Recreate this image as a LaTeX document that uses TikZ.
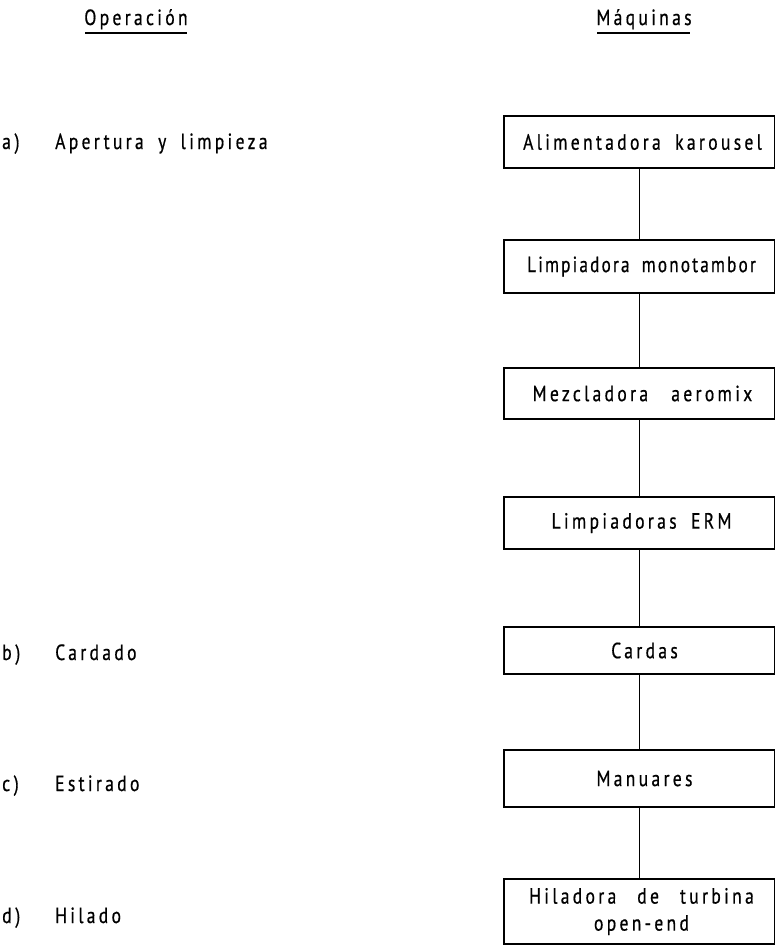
\documentclass[tikz,border=0pt]{standalone}
\usepackage{fontspec}
\setmainfont{PT Sans}[LetterSpace=15, FakeStretch=0.8, FakeBold=0.6, WordSpace=1.8]
\newfontfamily\tightfont{PT Sans}[LetterSpace=10, FakeStretch=0.78, FakeBold=0.6, WordSpace=1.8]
\begin{document}
\begin{tikzpicture}[x=1pt,y=-1pt,
  every node/.style={font=\fontsize{22}{26}\selectfont},
  box/.style={draw, line width=1.5pt, minimum width=271, inner sep=0pt, align=center},
  conn/.style={line width=0.9pt},
  lbl/.style={anchor=base west, inner sep=0pt},
  head/.style={inner sep=0pt, anchor=base},
  uline/.style={line width=1.4pt}]
\useasboundingbox (0,0) rectangle (775,946);
% headings
\node[head] (h1) at (136,25) {Operación};
\node[head] (h2) at (644,25) {Máquinas};
\draw[uline] (85,33) -- (187,33);
\draw[uline] (597,33) -- (690,33);
% boxes
\node[box, minimum height=52] (m1) at (639.5,142) {\hspace{6pt}Alimentadora karousel};
\node[box, minimum height=53, font=\tightfont\fontsize{22}{26}\selectfont] (m2) at (639.5,266.5) {\hspace{4pt}Limpiadora monotambor};
\node[box, minimum height=51] (m3) at (639.5,393.5) {\hspace{6pt}Mezcladora\hspace{0.4em} aeromix};
\node[box, minimum height=52] (m4) at (639.5,523) {\hspace{4pt}Limpiadoras ERM};
\node[box, minimum height=47] (m5) at (639.5,650.5) {\hspace{10pt}Cardas};
\node[box, minimum height=57] (m6) at (639.5,778.5) {\hspace{10pt}Manuares};
\node[box, minimum height=65, font=\fontsize{22}{27}\selectfont] (m7) at (639.5,911.5) {\hspace{4pt}Hiladora\hspace{0.3em} de\hspace{0.3em} turbina\\\hspace{4pt}open-end};
% connectors
\draw[conn] (m1) -- (m2);
\draw[conn] (m2) -- (m3);
\draw[conn] (m3) -- (m4);
\draw[conn] (m4) -- (m5);
\draw[conn] (m5) -- (m6);
\draw[conn] (m6) -- (m7);
% operations
\node[lbl] (la) at (2,149) {a\,)};
\node[lbl] (ta) at (55,149) {Apertura y limpieza};
\node[lbl] (lb) at (2,660) {b\,)};
\node[lbl] (tb) at (55,660) {Cardado};
\node[lbl] (lc) at (2,791) {c\,)};
\node[lbl] (tc) at (55,791) {Estirado};
\node[lbl] (ld) at (2,923) {d\,)};
\node[lbl] (td) at (55,923) {Hilado};
\end{tikzpicture}
\end{document}
